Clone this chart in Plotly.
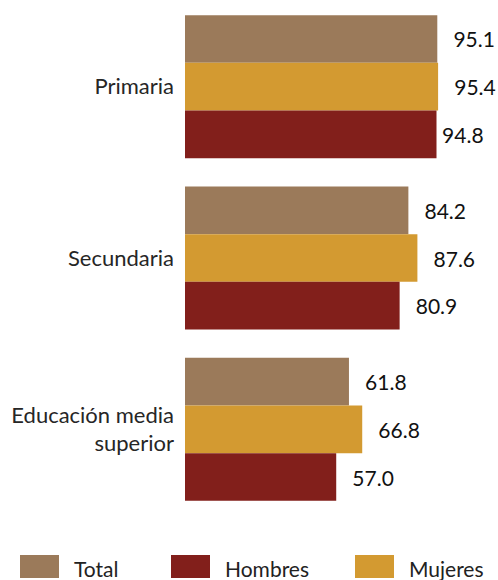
import plotly.graph_objects as go

categories = ["Primaria", "Secundaria", "Educación media<br>superior"]
series_names = ["Total", "Mujeres", "Hombres"]
total = [95.1, 84.2, 61.8]
mujeres = [95.4, 87.6, 66.8]
hombres = [94.8, 80.9, 57.0]
legend_order = ["Total", "Hombres", "Mujeres"]

colors = {"Total": "#9B7A5A", "Mujeres": "#D39A31", "Hombres": "#821F1B"}
values = {"Total": total, "Mujeres": mujeres, "Hombres": hombres}

W, H = 498, 580
ML, MR, MT, MB = 185, 0, 1, 65
PW, PH = W - ML - MR, H - MT - MB
PX_PER_UNIT = 2.653

FONT = "Lato"
SP = "\u2002\u2009"  # spacer before labels
SP_SMALL = "\u2009"

fig = go.Figure()
for name in series_names:
    vals = values[name]
    texts = []
    for v in vals:
        pad = SP_SMALL if (name == "Hombres" and v == hombres[0]) else SP
        texts.append(pad + f"{v:.1f}")
    fig.add_trace(go.Bar(
        y=categories, x=vals, orientation="h", name=name,
        marker=dict(color=colors[name], line=dict(width=0)),
        text=texts, textposition="outside", cliponaxis=False,
        constraintext="none",
        textfont=dict(family=FONT, size=21, color="#111111"),
        showlegend=False, hoverinfo="x+name",
    ))

def px_x(p):
    return (p - ML) / PW

def px_y(p):
    return (H - MB - p) / PH

shapes = []
annotations = []
legend_swatch_x = [20, 171, 355]
legend_text_x = [72, 223, 407]
for i, name in enumerate(legend_order):
    shapes.append(dict(type="rect", xref="paper", yref="paper",
                       x0=px_x(legend_swatch_x[i]), x1=px_x(legend_swatch_x[i] + 39),
                       y0=px_y(578), y1=px_y(555),
                       fillcolor=colors[name], line=dict(width=0)))
    annotations.append(dict(text=name, xref="paper", yref="paper",
                            x=px_x(legend_text_x[i]), y=px_y(583),
                            xanchor="left", yanchor="bottom", showarrow=False,
                            font=dict(family=FONT, size=21, color="#222222")))

fig.update_layout(
    width=W, height=H,
    margin=dict(l=ML, r=MR, t=MT, b=MB, pad=0),
    paper_bgcolor="white", plot_bgcolor="white",
    barmode="group", bargap=0.165, bargroupgap=0,
    shapes=shapes, annotations=annotations,
    xaxis=dict(range=[0, PW / PX_PER_UNIT], visible=False, fixedrange=True),
    yaxis=dict(autorange="reversed", showgrid=False, zeroline=False, showline=False,
               ticks="", ticklabelstandoff=10, fixedrange=True,
               tickfont=dict(family=FONT, size=22, color="#262626")),
    font=dict(family=FONT),
)

fig.write_html("out.html",
               config={"displayModeBar": False},
               post_script="document.body.style.margin='0';document.body.style.overflow='hidden';")
